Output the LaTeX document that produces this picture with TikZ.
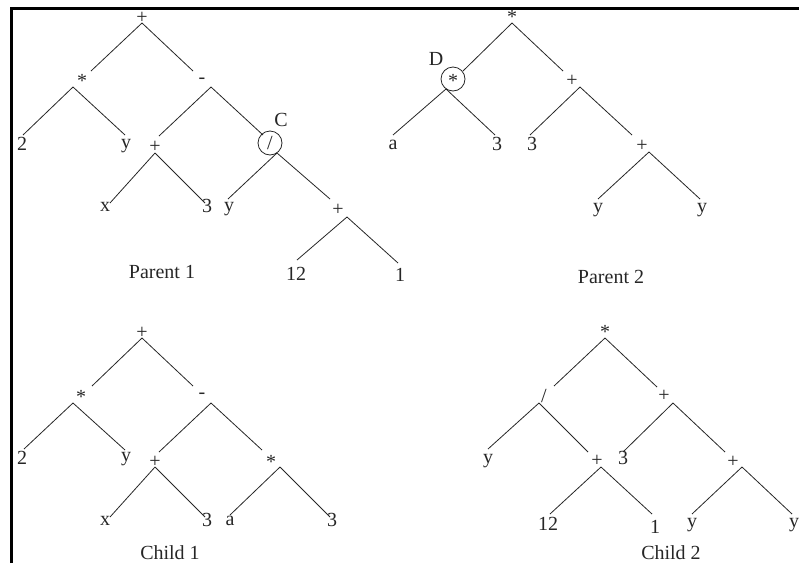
\documentclass[tikz,border=0pt]{standalone}
\usepackage{fontspec}
\setmainfont{Liberation Serif}
\begin{document}
\begin{tikzpicture}[x=1pt,y=-1pt,
  lbl/.style={anchor=base,inner sep=0pt,text=black!85},
  edge/.style={line width=0.8pt,black!85},
  ring/.style={draw=black!85,circle,minimum size=24pt,inner sep=0pt,line width=0.8pt},
  frame/.style={line width=3.2pt,line join=miter},
  font=\fontsize{20pt}{22pt}\selectfont]
\useasboundingbox (0,0) rectangle (799,563);
\draw[frame] (11.6,563) -- (11.6,8.4) -- (799,8.4);

% ---------------- Parent 1
\node[lbl] (p1n0) at (142,23) {+};
\node[lbl] (p1n1) at (82,87.5) {*};
\node[lbl] (p1n2) at (202,83) {-};
\node[lbl] (p1n3) at (22,150) {2};
\node[lbl] (p1n4) at (126,148) {y};
\node[lbl] (p1n5) at (155,152) {+};
\node[ring] (p1ring) at (270,143) {};
\node[lbl] (p1n6) at (270,149) {/};
\node[lbl] (p1C) at (281,126) {C};
\node[lbl] (p1n7) at (105,211) {x};
\node[lbl] (p1n8) at (207,212) {3};
\node[lbl] (p1n9) at (229,211) {y};
\node[lbl] (p1n10) at (338,215) {+};
\node[lbl] (p1n11) at (296,280) {12};
\node[lbl] (p1n12) at (400,281.5) {1};
\node[lbl] (p1cap) at (162,278) {Parent 1};
\coordinate (p1a0) at (142,23);
\coordinate (p1a1) at (73,87);
\coordinate (p1a2) at (211,87);
\coordinate (p1a5) at (155,153);
\coordinate (p1a6) at (277,153);
\coordinate (p1a10) at (347,217);
\coordinate (p1e1) at (91,71);
\coordinate (p1e2) at (193,71);
\coordinate (p1e3) at (23,135);
\coordinate (p1e4) at (125,135);
\coordinate (p1e5) at (159,136);
\coordinate (p1e6) at (263,135);
\coordinate (p1e7) at (110,203);
\coordinate (p1e8) at (205,203);
\coordinate (p1e9) at (228,199);
\coordinate (p1e10) at (330,199);
\coordinate (p1e11) at (297,260);
\coordinate (p1e12) at (398,263);
\draw[edge] (p1a0) -- (p1e1);
\draw[edge] (p1a0) -- (p1e2);
\draw[edge] (p1a1) -- (p1e3);
\draw[edge] (p1a1) -- (p1e4);
\draw[edge] (p1a2) -- (p1e5);
\draw[edge] (p1a2) -- (p1e6);
\draw[edge] (p1a5) -- (p1e7);
\draw[edge] (p1a5) -- (p1e8);
\draw[edge] (p1a6) -- (p1e9);
\draw[edge] (p1a6) -- (p1e10);
\draw[edge] (p1a10) -- (p1e11);
\draw[edge] (p1a10) -- (p1e12);

% ---------------- Parent 2
\node[lbl] (p2n0) at (512,23.5) {*};
\node[lbl] (p2D) at (436,65) {D};
\node[ring] (p2ring) at (453,79) {};
\node[lbl] (p2n1) at (453,87) {*};
\node[lbl] (p2n2) at (572,86) {+};
\node[lbl] (p2n3) at (393,149) {a};
\node[lbl] (p2n4) at (497,150) {3};
\node[lbl] (p2n5) at (532,150) {3};
\node[lbl] (p2n6) at (642,151) {+};
\node[lbl] (p2n7) at (598,212.5) {y};
\node[lbl] (p2n8) at (702,212.5) {y};
\node[lbl] (p2cap) at (611,283) {Parent 2};
\coordinate (p2a0) at (512,23);
\coordinate (p2a1) at (446,89);
\coordinate (p2a2) at (580,87);
\coordinate (p2a6) at (649,152);
\coordinate (p2e1) at (463,71);
\coordinate (p2e2) at (563,71);
\coordinate (p2e3) at (393,135);
\coordinate (p2e4) at (495,135);
\coordinate (p2e5) at (530,135);
\coordinate (p2e6) at (632,135);
\coordinate (p2e7) at (598,199);
\coordinate (p2e8) at (700,199);
\draw[edge] (p2a0) -- (p2e1);
\draw[edge] (p2a0) -- (p2e2);
\draw[edge] (p2a1) -- (p2e3);
\draw[edge] (p2a1) -- (p2e4);
\draw[edge] (p2a2) -- (p2e5);
\draw[edge] (p2a2) -- (p2e6);
\draw[edge] (p2a6) -- (p2e7);
\draw[edge] (p2a6) -- (p2e8);

% ---------------- Child 1
\node[lbl] (c1n0) at (142,338) {+};
\node[lbl] (c1n1) at (81,403) {*};
\node[lbl] (c1n2) at (202,398) {-};
\node[lbl] (c1n3) at (22,464) {2};
\node[lbl] (c1n4) at (126,461.5) {y};
\node[lbl] (c1n5) at (155,467) {+};
\node[lbl] (c1n6) at (271,468) {*};
\node[lbl] (c1n7) at (105,525) {x};
\node[lbl] (c1n8) at (207,526) {3};
\node[lbl] (c1n9) at (230,525) {a};
\node[lbl] (c1n10) at (332,526) {3};
\node[lbl] (c1cap) at (170,559.5) {Child 1};
\coordinate (c1a0) at (142,338);
\coordinate (c1a1) at (73,403);
\coordinate (c1a2) at (211,403);
\coordinate (c1a5) at (155,467);
\coordinate (c1a6) at (280,467);
\coordinate (c1e1) at (92,386);
\coordinate (c1e2) at (193,386);
\coordinate (c1e3) at (24,449);
\coordinate (c1e4) at (125,450);
\coordinate (c1e5) at (159,452);
\coordinate (c1e6) at (262,450);
\coordinate (c1e7) at (110,517);
\coordinate (c1e8) at (205,517);
\coordinate (c1e9) at (230,515);
\coordinate (c1e10) at (330,517);
\draw[edge] (c1a0) -- (c1e1);
\draw[edge] (c1a0) -- (c1e2);
\draw[edge] (c1a1) -- (c1e3);
\draw[edge] (c1a1) -- (c1e4);
\draw[edge] (c1a2) -- (c1e5);
\draw[edge] (c1a2) -- (c1e6);
\draw[edge] (c1a5) -- (c1e7);
\draw[edge] (c1a5) -- (c1e8);
\draw[edge] (c1a6) -- (c1e9);
\draw[edge] (c1a6) -- (c1e10);

% ---------------- Child 2
\node[lbl] (c2n0) at (605,338.5) {*};
\node[lbl] (c2n1) at (544,402) {/};
\node[lbl] (c2n2) at (664,401) {+};
\node[lbl] (c2n3) at (488,463) {y};
\node[lbl] (c2n4) at (597,466) {+};
\node[lbl] (c2n5) at (623,464) {3};
\node[lbl] (c2n6) at (733,467) {+};
\node[lbl] (c2n7) at (548,530) {12};
\node[lbl] (c2n8) at (655,533) {1};
\node[lbl] (c2n9) at (692,527.5) {y};
\node[lbl] (c2n10) at (794,527.5) {y};
\node[lbl] (c2cap) at (671,559.5) {Child 2};
\coordinate (c2a0) at (605,338);
\coordinate (c2a1) at (539,403);
\coordinate (c2a2) at (673,403);
\coordinate (c2a4) at (601,467);
\coordinate (c2a6) at (742,467);
\coordinate (c2e1) at (554,386);
\coordinate (c2e2) at (657,387);
\coordinate (c2e3) at (488,449);
\coordinate (c2e4) at (588,452);
\coordinate (c2e5) at (623,452);
\coordinate (c2e6) at (725,452);
\coordinate (c2e7) at (550,514);
\coordinate (c2e8) at (652,514);
\coordinate (c2e9) at (692,514);
\coordinate (c2e10) at (792,514);
\draw[edge] (c2a0) -- (c2e1);
\draw[edge] (c2a0) -- (c2e2);
\draw[edge] (c2a1) -- (c2e3);
\draw[edge] (c2a1) -- (c2e4);
\draw[edge] (c2a2) -- (c2e5);
\draw[edge] (c2a2) -- (c2e6);
\draw[edge] (c2a4) -- (c2e7);
\draw[edge] (c2a4) -- (c2e8);
\draw[edge] (c2a6) -- (c2e9);
\draw[edge] (c2a6) -- (c2e10);
\end{tikzpicture}
\end{document}
